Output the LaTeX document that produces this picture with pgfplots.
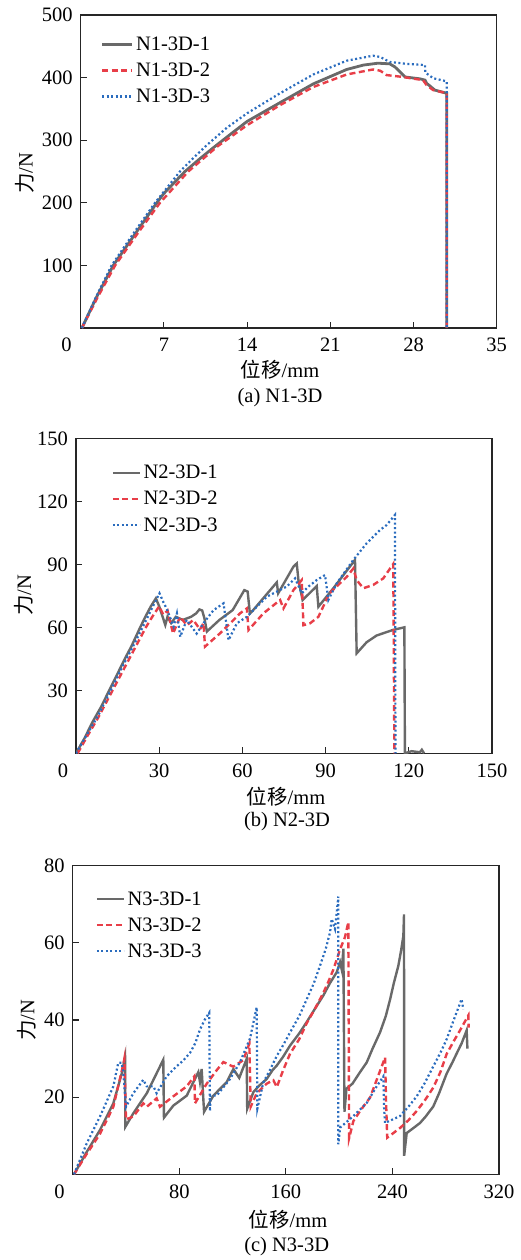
\documentclass[border=0pt]{standalone}
\usepackage{fontspec}
\setmainfont{Liberation Serif}
\newfontfamily\cjk{Noto Sans CJK SC}
\usepackage{pgfplots}
\pgfplotsset{compat=1.18}
\definecolor{cgray}{RGB}{105,105,105}
\definecolor{cred}{RGB}{232,62,72}
\definecolor{cblue}{RGB}{42,108,190}
\newcommand{\fs}{\fontsize{20.5}{24}\selectfont}
\pgfplotsset{
  myaxis/.style={
    scale only axis,
    axis line style={line width=1.3pt, draw=black!85},
    tick pos=left, tick align=inside, major tick length=6pt,
    every tick/.style={line width=1.1pt, black!85},
    tick label style={font=\fs},
    /pgf/number format/assume math mode=true,
    xticklabel style={inner sep=0pt, yshift=-10pt},
    yticklabel style={inner sep=0pt, xshift=-8pt},
    legend cell align=left,
    legend style={draw=none, fill=none, font=\fs, anchor=north west,
      row sep=6pt, inner sep=0pt, nodes={inner sep=2.5pt}},
  },
  s1/.style={cgray, line width=2.8pt},
  s2/.style={cred, line width=2.4pt, dash pattern=on 6pt off 3.5pt},
  s3/.style={cblue, line width=2.2pt, dash pattern=on 2pt off 2.5pt},
}
\begin{document}
\begin{tikzpicture}
\useasboundingbox (0pt,0pt) rectangle (521pt,-1260pt);
% ---------------- (a) ----------------
\begin{axis}[myaxis, at={(80.7pt,-328pt)}, anchor=south west,
  width=416pt, height=313pt, xmin=0, xmax=35, ymin=0, ymax=500,
  xtick={0,7,14,21,28,35},
  xticklabels={\makebox[0pt][r]{0\hspace{9pt}},7,14,21,28,35},
  ytick={100,200,300,400,500},
  legend style={at={(0.0476,0.9387)}},
  legend image code/.code={\draw[#1] (0pt,0pt) -- (30pt,0pt);}]
\addplot[s1] coordinates {(0.1,0)(1.35,50)(2.74,100)(4.57,150)(6.4,200)(7,215)(8.77,250)(10,270)(11.16,288)(12.5,308)(14,330)(16.77,360)(19.57,390)(22.38,413)(23.78,420)(25,423)(26.0,422)(26.44,417)(27.3,401)(28.55,398)(28.97,396)(29.1,391)(29.8,380)(30.8,375)(30.8,0)};
\addplot[s2] coordinates {(0.1,0)(1.45,50)(2.9,100)(4.75,150)(6.67,200)(9.05,250)(11.5,290)(14,324)(16.77,356)(19.57,385)(22.38,405)(24.6,413)(25.2,411)(25.74,404)(26.9,401.5)(28.8,396)(29.1,388)(29.66,380)(30.8,375)(30.8,0)};
\addplot[s3] coordinates {(0.1,0)(1.3,50)(2.6,100)(4.4,150)(6.25,200)(8.35,250)(9.5,272)(10.6,292)(12.3,320)(14,343)(16.77,375)(19.57,405)(22.38,427)(24.6,435)(25.2,433)(26,425)(27.4,422)(28.97,420)(29.0,408)(29.66,399)(30.8,394)(30.8,0)};
\legend{N1-3D-1,N1-3D-2,N1-3D-3}
\end{axis}
\node[font=\fs, rotate=90] at (25pt,-173pt) {{\cjk 力}/N};
\node[font=\fs] at (280pt,-370pt) {{\cjk 位移}/mm};
\node[font=\fs] at (280pt,-398pt) {(a) N1-3D};
% ---------------- (b) ----------------
\begin{axis}[myaxis, at={(76pt,-753.3pt)}, anchor=south west,
  width=416pt, height=315pt, xmin=0, xmax=150, ymin=0, ymax=150,
  xtick={0,30,60,90,120,150},
  xticklabels={\makebox[0pt][r]{0\hspace{8pt}},30,60,90,120,150},
  ytick={30,60,90,120,150},
  legend style={at={(0.0853,0.9229)}},
  legend image code/.code={\draw[#1] (0pt,0pt) -- (27pt,0pt);}]
\addplot[s1, line width=2.4pt] coordinates {(0,0)(3,7)(6,15)(9,22)(12,30)(15,38)(18,46)(20,51)(22.8,59)(25,65)(27,70)(28.8,73.8)(30,70)(31,66)(32.2,61.1)(33,65)(34.3,62)(36,65)(38.5,63.5)(41.5,65)(43.3,66.6)(44.5,68.5)(45.5,68)(46.3,64.3)(47.2,58)(51.7,63.5)(56.5,68.2)(60.7,77.7)(61.9,77)(62.7,66.6)(63.9,68.2)(72.4,81.4)(72.9,76.2)(78.4,88.9)(79.6,90.4)(80.2,82.5)(81.7,73)(86.8,79.6)(87.4,69.8)(92.8,78.6)(100.6,92.1)(101.2,47.6)(104.8,52.9)(108.4,56.1)(114.4,58.8)(116.8,59.5)(118.4,60)(118.6,0)(121,1)(124,0.5)(124.7,1.7)(125.5,0)};
\addplot[s2] coordinates {(0.6,0)(4,8)(8,17)(13.2,30)(18,42)(22,52)(25.2,60)(27.5,65)(30,70)(31.5,66)(33,68)(35,57)(37.5,65)(40,61)(42.3,63.5)(44.7,59)(46,62)(46.5,50.8)(51.9,57.1)(56.8,63.5)(59.2,66.7)(61.6,69)(62.2,58.7)(67.6,66.7)(73.6,73)(74.8,69)(78.4,77.7)(81.4,82.5)(82,61)(84.4,61.9)(87.4,65)(91.4,76.2)(97.6,84)(100,88)(101.2,82.5)(103.6,78.6)(107.2,80.2)(110.8,83.3)(114.4,90.2)(114.8,0)};
\addplot[s3] coordinates {(0,0)(4,9)(8,18)(12.5,30)(17,42)(21,52)(24,60)(27,68)(30.1,76.2)(31.5,72)(32.7,68.9)(35.2,60.3)(36.4,66.6)(37.6,55.5)(39.9,63.5)(43.5,57)(46,62)(49.6,68.2)(53.2,71.4)(55,53.9)(58,61.9)(61.6,65)(65.2,69.8)(68.8,74.6)(72.4,77)(76,79.4)(79,83.3)(81.4,76.2)(83.8,79.4)(86.8,82.5)(89.8,84.9)(91,73)(94,80.9)(100,92.1)(104.8,100)(109.6,106.3)(112,108.7)(115,113.5)(115.2,0)};
\legend{N2-3D-1,N2-3D-2,N2-3D-3}
\end{axis}
\node[font=\fs, rotate=90] at (23.3pt,-595pt) {{\cjk 力}/N};
\node[font=\fs] at (286pt,-796.7pt) {{\cjk 位移}/mm};
\node[font=\fs] at (287pt,-821.7pt) {(b) N2-3D};
% ---------------- (c) ----------------
\begin{axis}[myaxis, at={(72.7pt,-1174.3pt)}, anchor=south west,
  width=426.3pt, height=308.6pt, xmin=0, xmax=320, ymin=0, ymax=80,
  xtick={0,80,160,240,320},
  xticklabels={\makebox[0pt][r]{0\hspace{8pt}},80,160,240,320},
  ytick={20,40,60,80},
  legend style={at={(0.0535,0.9248)}},
  legend image code/.code={\draw[#1] (0pt,0pt) -- (27pt,0pt);}]
\addplot[s1, line width=2.4pt] coordinates {(1,0)(10,5.5)(20.5,11.5)(30.5,18.4)(36.8,26.1)(39.3,30.4)(39.5,12.3)(45.5,15.8)(50.5,18.4)(55.6,21)(60.6,24.5)(68,29.7)(68.5,14.7)(75.5,17.8)(85.6,20.4)(94.3,26.5)(95.5,24)(96.8,27.3)(98.6,16.2)(105.6,20.4)(115.6,23.9)(120.6,27.3)(125,25)(130.6,29.9)(131,17)(135.6,21.3)(140,23)(145.6,24.7)(150,27)(153.2,28.2)(158,30.5)(163.2,33.4)(170,36.5)(175.7,39.5)(182,43)(188.2,46.4)(193,49.5)(198.2,52.4)(200.7,55)(202,53)(203.2,58.5)(204,16.2)(205.5,22.2)(210,23.5)(215.7,26.5)(220.7,29)(225,32.5)(230.7,36.8)(235,41)(238.3,45.4)(241,49.5)(244.4,54)(246.5,58)(248.2,61.8)(248.7,67.4)(248.8,4.8)(250.7,10.7)(255,11.8)(260.7,13.3)(265,15)(270.7,17.6)(275,21)(280.7,26.1)(285,29)(288.2,31.3)(292,34)(295.7,37.3)(296.3,32.6)};
\addplot[s2] coordinates {(1,0)(10,5)(20.5,10.5)(30.5,17.5)(38,28.5)(38.8,30)(40,14.2)(45.5,15)(53,18.4)(55.6,17.5)(63,19.7)(65.5,17.5)(75.5,20.2)(85.6,22.8)(91.3,25.4)(91.8,18.4)(100.6,23.5)(108.1,27)(113.1,29.1)(120.6,27.9)(128.1,29.6)(132.6,33.9)(133.6,17.5)(138.1,21)(145.6,23.5)(150.6,24.4)(153.2,22.6)(158,27)(163.2,31.3)(170,35)(175.7,39.2)(182,43)(188.2,47.1)(192,50)(195.7,53.1)(200.7,58.3)(204.4,61.5)(206.9,65.4)(207.5,9.4)(210.7,13.8)(215.7,16.4)(223.2,19.9)(230.7,26.8)(234.5,30.3)(235.2,19)(236.1,9.5)(245.7,12)(252,14)(258.2,16.4)(264,19)(270.7,22.5)(276,26.5)(280.7,31.2)(286,34.5)(290.7,37.3)(297,41.2)(297.2,38)};
\addplot[s3] coordinates {(1,0)(10.5,8)(20.5,15)(30.5,22.8)(34.2,28.9)(36.8,28.9)(38,26.3)(40,17.5)(45.5,21)(53,24.5)(55.6,22.8)(60.6,22.8)(63,21)(70.5,25.4)(78,28)(83,29.5)(88.1,31.5)(92,34)(95.6,37.6)(99,40)(102.5,41.9)(103,16.4)(103.5,20.4)(108.1,20.4)(118.1,24.7)(125.6,29.1)(133.1,35.2)(138.1,43.3)(138.6,17)(143.1,23.8)(148,27)(153.2,30.7)(158,33.5)(163.2,36.8)(170,41)(175.7,45.4)(181,49.5)(185.7,54.1)(190,58.5)(193.2,62.8)(194.4,66.2)(196.9,63.6)(199.4,72)(199.4,7.8)(200.7,12.1)(210.7,15.1)(220.7,18.5)(228.2,22.8)(233.2,25.4)(233.7,17.5)(234.4,13.3)(245.7,15.1)(252,17.5)(258.2,20.2)(264,23.5)(270.7,28)(276,31.5)(280.7,35)(286,40)(291.9,45.4)(293.2,42.8)};
\legend{N3-3D-1,N3-3D-2,N3-3D-3}
\end{axis}
\node[font=\fs, rotate=90] at (26.7pt,-1020pt) {{\cjk 力}/N};
\node[font=\fs] at (288pt,-1220pt) {{\cjk 位移}/mm};
\node[font=\fs] at (286.7pt,-1246.7pt) {(c) N3-3D};
\end{tikzpicture}
\end{document}
